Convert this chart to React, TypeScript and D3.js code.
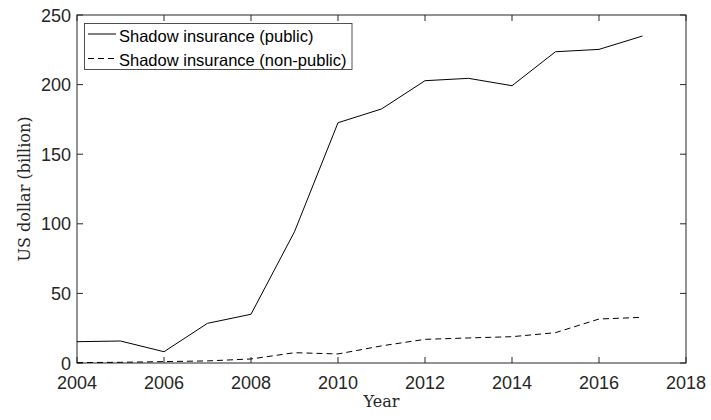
import React from "react";
import * as d3 from "d3";

const years = [2004, 2005, 2006, 2007, 2008, 2009, 2010, 2011, 2012, 2013, 2014, 2015, 2016, 2017];
const publicValues = [15.3, 15.8, 8.1, 28.5, 35, 94.3, 172.6, 182.5, 202.8, 204.5, 199.2, 223.6, 225.3, 234.9];
const nonPublicValues = [0.3, 0.5, 1.0, 1.5, 2.9, 7.4, 6.5, 12.3, 17, 18, 18.9, 21.8, 31.6, 32.8];
const xTicks = [2004, 2006, 2008, 2010, 2012, 2014, 2016, 2018];
const yTicks = [0, 50, 100, 150, 200, 250];
const seriesNames = ["Shadow insurance (public)", "Shadow insurance (non-public)"];

const W = 711, H = 420;
const L = 77, R = 686, T = 15, B = 363;
const axisColor = "#262626";
const sans = "'Liberation Sans', Arial, Helvetica, sans-serif";
const serif = "'DejaVu Serif', 'Liberation Serif', serif";

export default function App() {
  const x = d3.scaleLinear().domain([2004, 2018]).range([L, R]);
  const y = d3.scaleLinear().domain([0, 250]).range([B, T]);
  const line = d3.line<number>().x((_, i) => x(years[i])).y((v) => y(v));
  const tick = 6;
  return (
    <svg width={W} height={H} style={{ position: "absolute", left: 0, top: 0, background: "#fff" }}>
      <rect x={0} y={0} width={W} height={H} fill="#fff" />
      {xTicks.map((t) => (
        <g key={"x" + t}>
          <line x1={x(t)} x2={x(t)} y1={B} y2={B - tick} stroke={axisColor} strokeWidth={1} />
          <line x1={x(t)} x2={x(t)} y1={T} y2={T + tick} stroke={axisColor} strokeWidth={1} />
          <text x={x(t)} y={388.5} textAnchor="middle" fontFamily={sans} fontSize={18} fill={axisColor}>{t}</text>
        </g>
      ))}
      {yTicks.map((t) => (
        <g key={"y" + t}>
          <line x1={L} x2={L + tick} y1={y(t)} y2={y(t)} stroke={axisColor} strokeWidth={1} />
          <line x1={R} x2={R - tick} y1={y(t)} y2={y(t)} stroke={axisColor} strokeWidth={1} />
          <text x={71} y={y(t) + 6.5} textAnchor="end" fontFamily={sans} fontSize={18} fill={axisColor}>{t}</text>
        </g>
      ))}
      <rect x={L} y={T} width={R - L} height={B - T} fill="none" stroke={axisColor} strokeWidth={1} />
      <path d={line(publicValues) || ""} fill="none" stroke="#000" strokeWidth={1} />
      <path d={line(nonPublicValues) || ""} fill="none" stroke="#000" strokeWidth={1} strokeDasharray="6,4" />
      <rect x={84.5} y={23.5} width={267.5} height={46} fill="#fff" stroke={axisColor} strokeWidth={0.8} />
      <line x1={88} x2={116} y1={34} y2={34} stroke="#000" strokeWidth={1} />
      <line x1={88} x2={116} y1={58.5} y2={58.5} stroke="#000" strokeWidth={1} strokeDasharray="6,4" />
      <text x={119} y={42} fontFamily={sans} fontSize={16.5} fill="#000">{seriesNames[0]}</text>
      <text x={119} y={65.5} fontFamily={sans} fontSize={16.5} fill="#000">{seriesNames[1]}</text>
      <text x={(L + R) / 2} y={407} textAnchor="middle" fontFamily={serif} fontSize={16} fill={axisColor}>Year</text>
      <text transform={`translate(30,${(T + B) / 2}) rotate(-90)`} textAnchor="middle" fontFamily={serif} fontSize={16} fill={axisColor}>US dollar (billion)</text>
    </svg>
  );
}
